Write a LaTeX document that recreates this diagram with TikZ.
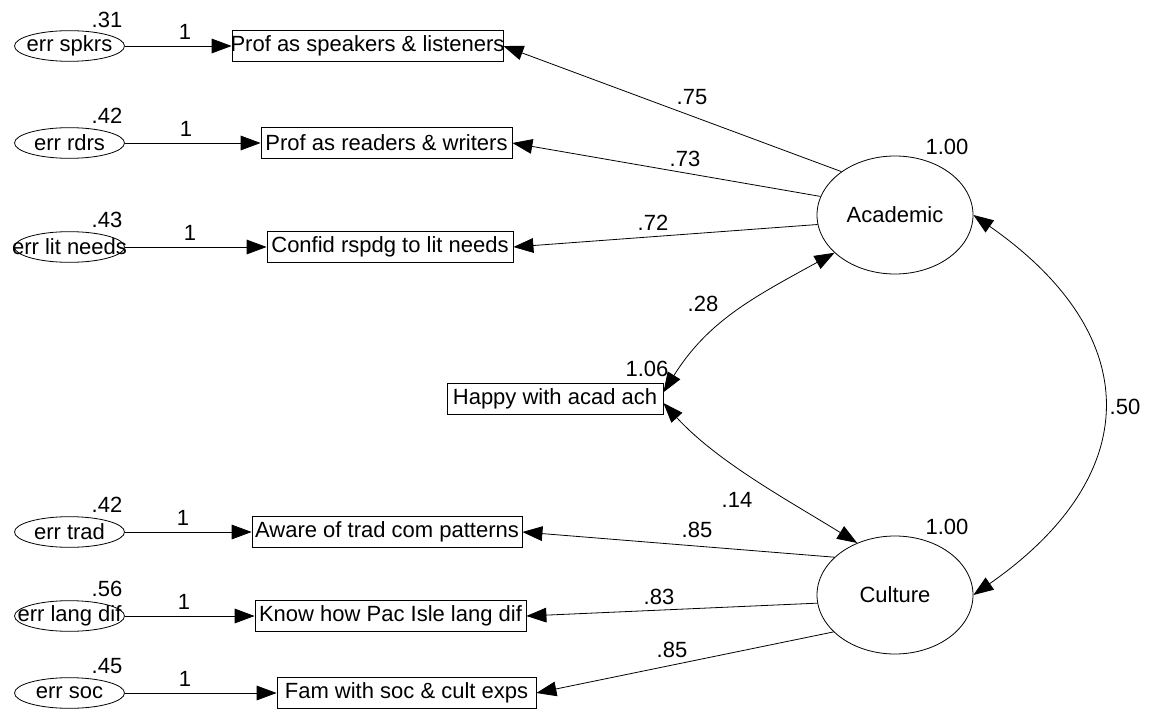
\documentclass[tikz,border=0pt]{standalone}
\usepackage{fontspec}
\setmainfont{Liberation Sans}
\usetikzlibrary{arrows.meta,shapes.geometric}
\begin{document}
\begin{tikzpicture}[x=0.75pt,y=-0.75pt, line width=0.6pt,
  >={Triangle[length=15pt,width=11pt]},
  every node/.style={font=\fontsize{16.5}{19}\selectfont, inner sep=0pt},
  obs/.style={draw, rectangle, minimum height=23pt},
  err/.style={draw, ellipse, minimum width=82.5pt, minimum height=23pt},
  lat/.style={draw, ellipse, minimum width=117pt, minimum height=88.5pt}]
\useasboundingbox (0,0) rectangle (1150,713);

% error terms
\node[err] (e1) at (69.5,46)  {\makebox[0pt]{err spkrs}};
\node[err] (e2) at (69.5,143) {\makebox[0pt]{err rdrs}};
\node[err] (e3) at (69.5,247) {\makebox[0pt]{err lit needs}};
\node[err] (e4) at (69.5,532) {\makebox[0pt]{err trad}};
\node[err] (e5) at (69.5,616) {\makebox[0pt]{err lang dif}};
\node[err] (e6) at (69.5,693) {\makebox[0pt]{err soc}};

% observed
\node[obs, minimum width=203.25pt] (b1) at (367.5,46)  {\makebox[0pt]{Prof as speakers \& listeners}};
\node[obs, minimum width=188.25pt] (b2) at (386.5,143) {\makebox[0pt]{Prof as readers \& writers}};
\node[obs, minimum width=184.5pt]  (b3) at (390,247)   {\makebox[0pt]{Confid rspdg to lit needs}};
\node[obs, minimum width=202.5pt]  (b4) at (387,532)   {\makebox[0pt]{Aware of trad com patterns}};
\node[obs, minimum width=203.25pt] (b5) at (390.5,616) {\makebox[0pt]{Know how Pac Isle lang dif}};
\node[obs, minimum width=194.25pt] (b6) at (406.5,693) {\makebox[0pt]{Fam with soc \& cult exps}};
\node[obs, minimum width=162pt]    (hap) at (555,399)  {\makebox[0pt]{Happy with acad ach}};

% latent
\node[lat] (acad) at (895,215) {Academic};
\node[lat] (cult) at (895,595) {Culture};

% error arrows
\draw[->] (e1) -- (b1);
\draw[->] (e2) -- (b2);
\draw[->] (e3) -- (b3);
\draw[->] (e4) -- (b4);
\draw[->] (e5) -- (b5);
\draw[->] (e6) -- (b6);

% loadings
\draw[->] (acad.141) -- (b1.east);
\draw[->] (acad.166) -- (b2.east);
\draw[->] (acad.187) -- (b3.east);
\draw[->] (cult.148) -- (b4.east);
\draw[->] (cult.186) -- (b5.east);
\draw[->] (cult.211) -- (b6.east);

% covariances
\draw[<->] ([yshift=5pt]hap.east) .. controls +(45,-72) and +(-80,44) .. (acad.212);
\draw[<->] ([yshift=-3pt]hap.east) .. controls +(54,59) and +(-68,-42) .. (cult.126);
\draw[<->] (acad.east) .. controls +(172,120) and +(172,-120) .. (cult.east);

% variance labels
\node (v1) at (107,20)  {.31};
\node (v2) at (107,116) {.42};
\node (v3) at (107,220) {.43};
\node (v4) at (107,505) {.42};
\node (v5) at (107,589) {.56};
\node (v6) at (107,666) {.45};
\node (vh) at (647,369) {1.06};
\node (va) at (947,147) {1.00};
\node (vc) at (947,527) {1.00};

% fixed paths
\node (f1) at (185,32)  {1};
\node (f2) at (186,129) {1};
\node (f3) at (190,233) {1};
\node (f4) at (183,518) {1};
\node (f5) at (184,602) {1};
\node (f6) at (185,679) {1};

% loading labels
\node (l1) at (692,97)  {.75};
\node (l2) at (685,159) {.73};
\node (l3) at (653,223) {.72};
\node (l4) at (697,530) {.85};
\node (l5) at (659,597) {.83};
\node (l6) at (672,650) {.85};
\node (c1) at (703,304) {.28};
\node (c2) at (737,500) {.14};
\node (c3) at (1125,407) {.50};
\end{tikzpicture}
\end{document}
